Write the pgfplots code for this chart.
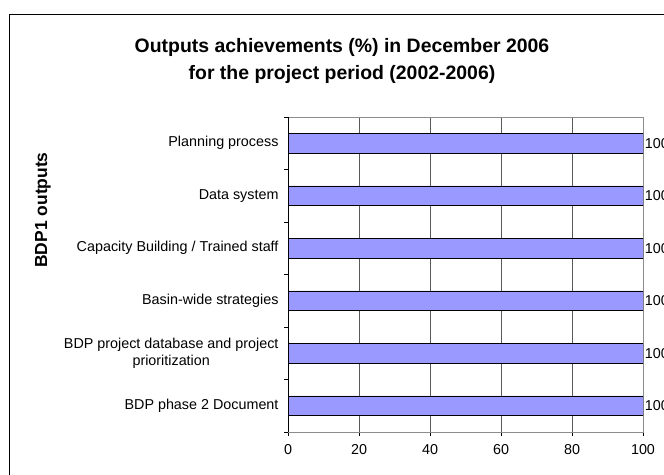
\documentclass[border=0pt]{standalone}
\usepackage{pgfplots}
\pgfplotsset{compat=1.18}
\usepackage{fontspec}
\setmainfont{Liberation Sans}
\definecolor{barblue}{RGB}{153,153,255}
\begin{document}
\begin{tikzpicture}[x=1bp,y=1bp]
\draw[line width=1bp] (9.5,-20) -- (9.5,460) -- (700,460);
\node[anchor=base, font=\bfseries\fontsize{19.5}{22}\selectfont] at (342,422) {Outputs achievements (\%) in December 2006};
\node[anchor=base, font=\bfseries\fontsize{19.5}{22}\selectfont] at (342,395) {for the project period (2002-2006)};
\node[rotate=90, font=\bfseries\fontsize{17.5}{20}\selectfont] at (43,265) {BDP1 outputs};
\begin{axis}[
  at={(288bp,43bp)}, anchor=south west,
  scale only axis, width=355bp, height=315bp,
  xmin=0, xmax=100, ymin=0.5, ymax=6.5,
  xbar, bar width=19.5bp,
  axis line style={black!45},
  xtick={0,20,40,60,80,100},
  xtick pos=bottom, ytick pos=left,
  xmajorgrids, grid style={black!65, line width=0.8bp},
  x tick style={black, line width=0.8bp},
  tick align=outside, major tick length=4bp,
  ytick={1,2,3,4,5,6},
  y tick style={draw=none},
  yticklabels={BDP phase 2 Document, {BDP project database and project\\prioritization}, Basin-wide strategies, Capacity Building / Trained staff, Data system, Planning process},
  yticklabel style={align=center, xshift=-2bp, font=\fontsize{14.4}{17.5}\selectfont},
  xticklabel style={font=\fontsize{14.4}{16}\selectfont, yshift=-5bp},
  /pgf/number format/assume math mode=true,
  extra y ticks={0.5,1.5,2.5,3.5,4.5,5.5,6.5},
  extra y tick labels={},
  extra y tick style={y tick style={draw=black, line width=0.8bp}, ymajorgrids=false},
  nodes near coords,
  nodes near coords style={font=\fontsize{14.4}{16}\selectfont, anchor=west, inner sep=1.5bp},
]
\addplot[fill=barblue, draw=black, line width=0.9bp] coordinates {(100,1) (100,2) (100,3) (100,4) (100,5) (100,6)};
\draw[black, line width=0.9bp] (rel axis cs:0,1) -- (rel axis cs:0,0) -- (rel axis cs:1,0);
\end{axis}
\pgfresetboundingbox
\useasboundingbox (0,0) rectangle (664,475);
\end{tikzpicture}
\end{document}
